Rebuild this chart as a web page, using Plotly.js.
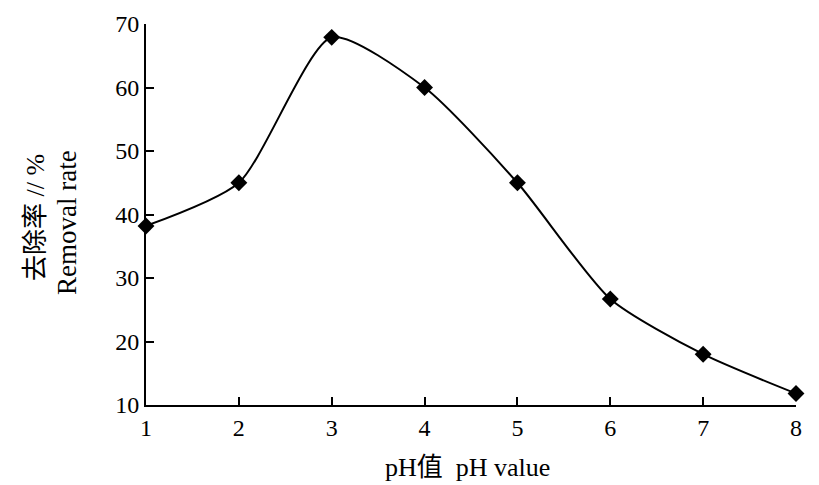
<!DOCTYPE html>
<html>
<head>
<meta charset="utf-8">
<script src="https://cdn.plot.ly/plotly-3.0.1.min.js"></script>
<style>html,body{margin:0;padding:0;background:#fff;}#chart{width:819px;height:485px;}</style>
</head>
<body>
<div id="chart"></div>
<script>
const phValues = [1, 2, 3, 4, 5, 6, 7, 8];
const removalRate = [38.2, 45.0, 67.9, 60.0, 45.0, 26.7, 18.0, 11.8];
const yTicks = [10, 20, 30, 40, 50, 60, 70];
const xTitle = 'pH值\u00a0\u00a0pH value';
const yTitleLine1 = '去除率 // %';
const yTitleLine2 = 'Removal rate';

const fontFam = '"Liberation Serif", "Noto Sans CJK SC", serif';

const trace = {
  x: phValues,
  y: removalRate,
  type: 'scatter',
  mode: 'lines+markers',
  line: {color: '#000', width: 2, shape: 'spline', smoothing: 0.65},
  marker: {symbol: 'diamond', size: 13, color: '#000'},
  cliponaxis: false,
  hoverinfo: 'skip'
};

const layout = {
  width: 819, height: 485,
  margin: {l: 146, r: 23, t: 24, b: 80},
  paper_bgcolor: '#fff', plot_bgcolor: '#fff',
  showlegend: false,
  font: {family: fontFam, color: '#000', size: 24},
  xaxis: {
    range: [1, 8], tickvals: phValues, ticktext: phValues.map(String),
    ticks: 'inside', ticklen: 8, tickwidth: 2, tickcolor: '#000',
    showline: true, linewidth: 2, linecolor: '#000',
    showgrid: false, zeroline: false,
    tickfont: {family: fontFam, size: 24, color: '#000'}
  },
  yaxis: {
    range: [10, 70], tickvals: yTicks,
    ticks: 'inside', ticklen: 8, tickwidth: 2, tickcolor: '#000',
    showline: true, linewidth: 2, linecolor: '#000',
    showgrid: false, zeroline: false,
    tickfont: {family: fontFam, size: 24, color: '#000'}
  },
  annotations: [
    {text: xTitle, xref: 'paper', yref: 'paper', x: 0.494, y: -0.163,
     xanchor: 'center', yanchor: 'middle', showarrow: false,
     font: {family: fontFam, size: 26, color: '#000'}},
    {text: yTitleLine1, xref: 'paper', yref: 'paper', x: -0.171, y: 0.493,
     xanchor: 'center', yanchor: 'middle', showarrow: false, textangle: -90,
     font: {family: fontFam, size: 26, color: '#000'}},
    {text: yTitleLine2, xref: 'paper', yref: 'paper', x: -0.1215, y: 0.478,
     xanchor: 'center', yanchor: 'middle', showarrow: false, textangle: -90,
     font: {family: fontFam, size: 27, color: '#000'}}
  ]
};

Plotly.newPlot('chart', [trace], layout, {staticPlot: true, displayModeBar: false});
</script>
</body>
</html>
